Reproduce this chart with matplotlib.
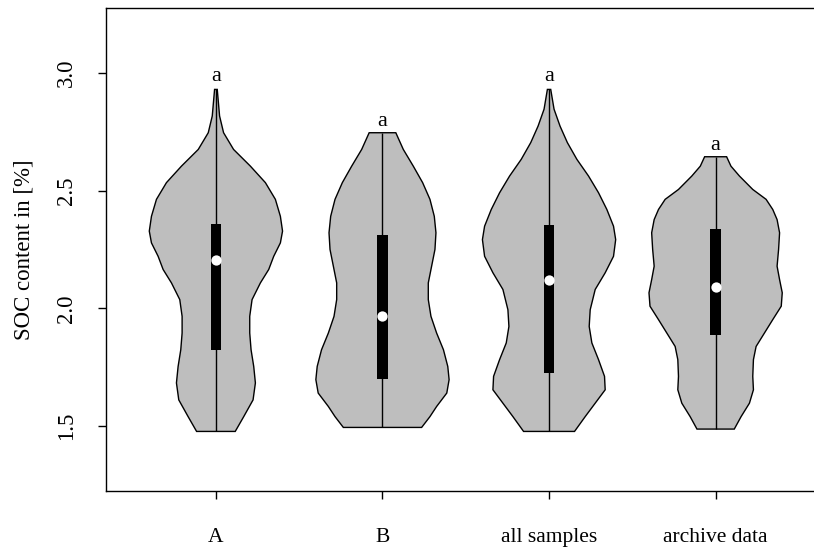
import matplotlib
matplotlib.use('Agg')
import matplotlib.pyplot as plt
import numpy as np

# groups and summary values
groups = ['A', 'B', 'all samples', 'archive data']
q1 = [1.824, 1.700, 1.725, 1.885]
q3 = [2.360, 2.311, 2.353, 2.335]
medians = [2.207, 1.966, 2.119, 2.092]
letters = ['a', 'a', 'a', 'a']
letter_y = [2.985, 2.795, 2.985, 2.69]

# violin outlines: y values and half widths (x units), top to bottom
a_y = [2.930, 2.817, 2.746, 2.675, 2.604, 2.534, 2.463, 2.391, 2.328, 2.278, 2.221,
       2.165, 2.108, 2.037, 1.966, 1.895, 1.824, 1.753, 1.683, 1.611, 1.540, 1.477]
a_w = [0.008, 0.022, 0.046, 0.106, 0.207, 0.297, 0.357, 0.387, 0.400, 0.387, 0.347,
       0.317, 0.267, 0.217, 0.203, 0.203, 0.211, 0.227, 0.237, 0.223, 0.167, 0.116]

b_y = [2.746, 2.675, 2.604, 2.534, 2.463, 2.391, 2.321, 2.250, 2.179, 2.108, 2.037,
       1.966, 1.895, 1.824, 1.753, 1.697, 1.640, 1.583, 1.540, 1.494]
b_w = [0.080, 0.125, 0.185, 0.241, 0.285, 0.311, 0.321, 0.315, 0.295, 0.275, 0.275,
       0.291, 0.325, 0.366, 0.392, 0.400, 0.386, 0.325, 0.285, 0.235]

all_y = [2.930, 2.846, 2.774, 2.704, 2.633, 2.562, 2.491, 2.420, 2.349, 2.292, 2.221,
         2.151, 2.080, 1.994, 1.923, 1.853, 1.782, 1.711, 1.654, 1.597, 1.540, 1.477]
all_w = [0.010, 0.030, 0.066, 0.110, 0.167, 0.237, 0.297, 0.347, 0.387, 0.400, 0.387,
         0.337, 0.277, 0.247, 0.241, 0.257, 0.297, 0.333, 0.337, 0.277, 0.217, 0.153]

arc_y = [2.644, 2.604, 2.562, 2.505, 2.463, 2.420, 2.377, 2.321, 2.250, 2.179, 2.122,
         2.066, 2.009, 1.952, 1.895, 1.838, 1.782, 1.711, 1.654, 1.597, 1.540, 1.487]
arc_w = [0.066, 0.092, 0.143, 0.223, 0.303, 0.343, 0.369, 0.384, 0.378, 0.369, 0.384,
         0.400, 0.394, 0.343, 0.293, 0.243, 0.227, 0.223, 0.227, 0.203, 0.153, 0.112]

outlines = [(a_y, a_w), (b_y, b_w), (all_y, all_w), (arc_y, arc_w)]

plt.rcParams['font.family'] = ['Liberation Serif', 'DejaVu Serif']

fig = plt.figure(figsize=(8.14, 5.5), dpi=100)
ax = fig.add_axes([0.1302, 0.1073, 0.884, 0.8782])

for i, (ys, ws) in enumerate(outlines):
    pos = i + 1
    ys = np.array(ys)
    ws = np.array(ws)
    xs = np.concatenate([pos - ws, (pos + ws)[::-1]])
    yy = np.concatenate([ys, ys[::-1]])
    ax.fill(xs, yy, facecolor='#bebebe', edgecolor='black', linewidth=1.0, zorder=2)
    ax.vlines(pos, ys.min(), ys.max(), color='black', linewidth=1.0, zorder=3)
    ax.bar(pos, q3[i] - q1[i], bottom=q1[i], width=0.065, color='black', zorder=4)
    ax.scatter(pos, medians[i], s=55, color='white', zorder=5, linewidths=0)
    ax.text(pos, letter_y[i], letters[i], ha='center', va='center', fontsize=16)

ax.set_xlim(0.34, 4.66)
ax.set_ylim(1.224, 3.276)
ax.set_xticks(range(1, 5))
ax.set_xticklabels(groups, fontsize=15.5)
ax.set_yticks([1.5, 2.0, 2.5, 3.0])
ax.set_yticklabels(['1.5', '2.0', '2.5', '3.0'], rotation=90, va='center', fontsize=16.5)
ax.tick_params(axis='both', direction='out', length=6, width=1)
ax.tick_params(axis='x', pad=21)
ax.tick_params(axis='y', pad=15)
fig.text(24 / 814, 0.546, 'SOC content in [%]', rotation=90, ha='center', va='center',
         fontsize=16.5)
for s in ax.spines.values():
    s.set_linewidth(1.0)

fig.savefig('out.png', dpi=100)
